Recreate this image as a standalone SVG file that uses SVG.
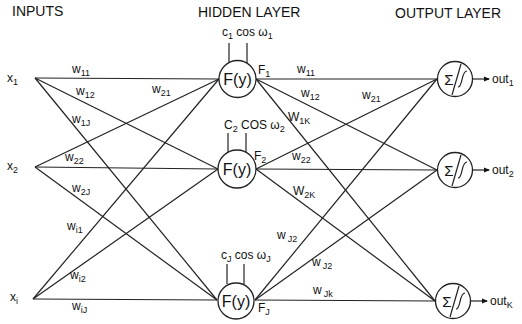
<svg xmlns="http://www.w3.org/2000/svg" width="522" height="324" viewBox="0 0 522 324">
<defs>
<marker id="ah" markerWidth="6" markerHeight="6" refX="5" refY="3" orient="auto" markerUnits="userSpaceOnUse">
<path d="M0,0.5 L6,3 L0,5.5 Z" fill="#111"/>
</marker>
<style>
text{font-family:"Liberation Sans",Arial,sans-serif;fill:#111;}
.hd{font-size:14px;}
.lb{font-size:12px;}
.sb{font-size:9px;}
.fy{font-size:16px;}
.ln{stroke:#222;stroke-width:1.2;fill:none;}
.nd{stroke:#222;stroke-width:1.3;fill:#fff;}
</style>
</defs>
<rect width="522" height="324" fill="#fff"/>

<text class="hd" x="12" y="16">INPUTS</text>
<text class="hd" x="198" y="17">HIDDEN LAYER</text>
<text class="hd" x="395" y="18">OUTPUT LAYER</text>

<g id="connectors" class="ln">
<!-- inputs to hidden -->
<line x1="35" y1="78" x2="219" y2="79"/>
<line x1="35" y1="78" x2="218" y2="169"/>
<line x1="35" y1="78" x2="217" y2="300"/>
<line x1="35" y1="167" x2="219" y2="79"/>
<line x1="35" y1="167" x2="218" y2="169"/>
<line x1="35" y1="167" x2="217" y2="300"/>
<line x1="33" y1="299" x2="219" y2="79"/>
<line x1="33" y1="299" x2="218" y2="169"/>
<line x1="33" y1="299" x2="217" y2="300"/>
<!-- hidden to output -->
<line x1="256" y1="79" x2="437" y2="79"/>
<line x1="256" y1="79" x2="437" y2="170"/>
<line x1="256" y1="79" x2="435" y2="301"/>
<line x1="256" y1="169" x2="437" y2="79"/>
<line x1="256" y1="169" x2="437" y2="170"/>
<line x1="256" y1="169" x2="435" y2="301"/>
<line x1="255" y1="300" x2="437" y2="79"/>
<line x1="255" y1="300" x2="437" y2="170"/>
<line x1="255" y1="300" x2="435" y2="301"/>
<!-- stubs -->
<line x1="229" y1="43" x2="229" y2="63"/>
<line x1="247" y1="43" x2="247" y2="63"/>
<line x1="228" y1="133" x2="228" y2="152"/>
<line x1="246" y1="133" x2="246" y2="152"/>
<line x1="227" y1="264" x2="227" y2="284"/>
<line x1="244" y1="264" x2="244" y2="284"/>
<!-- output arrows -->
<line x1="473" y1="79" x2="489" y2="79" marker-end="url(#ah)"/>
<line x1="473" y1="170" x2="489" y2="170" marker-end="url(#ah)"/>
<line x1="471" y1="301" x2="487" y2="301" marker-end="url(#ah)"/>
</g>

<!-- input nodes -->
<g id="x1"><text class="lb" x="7" y="82">x<tspan class="sb" dy="3">1</tspan></text></g>
<g id="x2"><text class="lb" x="7" y="170">x<tspan class="sb" dy="3">2</tspan></text></g>
<g id="xi"><text class="lb" x="10" y="301">x<tspan class="sb" dy="3">i</tspan></text></g>

<!-- hidden nodes -->
<g id="h1">
<circle class="nd" cx="237.5" cy="79" r="18.5"/>
<text class="fy" x="237.5" y="85" text-anchor="middle">F(y)</text>
<text class="lb" x="222" y="36">c<tspan class="sb" dy="3">1</tspan><tspan dy="-3"> cos ω</tspan><tspan class="sb" dy="3">1</tspan></text>
<text class="lb" x="258" y="74">F<tspan class="sb" dy="3">1</tspan></text>
</g>
<g id="h2">
<circle class="nd" cx="237" cy="169" r="19"/>
<text class="fy" x="237" y="175" text-anchor="middle">F(y)</text>
<text class="lb" x="224" y="129">C<tspan class="sb" dy="3">2</tspan><tspan dy="-3"> COS ω</tspan><tspan class="sb" dy="3">2</tspan></text>
<text class="lb" x="254" y="160">F<tspan class="sb" dy="3">2</tspan></text>
</g>
<g id="hJ">
<circle class="nd" cx="236" cy="301" r="18"/>
<text class="fy" x="236" y="307" text-anchor="middle">F(y)</text>
<text class="lb" x="221" y="259">c<tspan class="sb" dy="3">J</tspan><tspan dy="-3"> cos ω</tspan><tspan class="sb" dy="3">J</tspan></text>
<text class="lb" x="258" y="312">F<tspan class="sb" dy="3">J</tspan></text>
</g>

<!-- output nodes -->
<g id="o1">
<circle class="nd" cx="455" cy="79" r="17.5"/>
<text x="449" y="85" font-size="15" text-anchor="middle">Σ</text>
<line class="ln" x1="461" y1="64" x2="452" y2="95"/>
<path class="ln" d="M458,87 C463,87 461,71 467,71"/>
<text class="lb" x="492" y="83">out<tspan class="sb" dy="3">1</tspan></text>
</g>
<g id="o2">
<circle class="nd" cx="455" cy="170" r="17.5"/>
<text x="449" y="176" font-size="15" text-anchor="middle">Σ</text>
<line class="ln" x1="461" y1="155" x2="452" y2="186"/>
<path class="ln" d="M458,178 C463,178 461,162 467,162"/>
<text class="lb" x="492" y="174">out<tspan class="sb" dy="3">2</tspan></text>
</g>
<g id="oK">
<circle class="nd" cx="453" cy="301" r="17.5"/>
<text x="447" y="307" font-size="15" text-anchor="middle">Σ</text>
<line class="ln" x1="459" y1="286" x2="450" y2="317"/>
<path class="ln" d="M456,309 C461,309 459,293 465,293"/>
<text class="lb" x="490" y="305">out<tspan class="sb" dy="3">K</tspan></text>
</g>

<!-- weight labels, left -->
<g id="wlabels-left">
<text class="lb" x="72" y="73">w<tspan class="sb" dy="3">11</tspan></text>
<text class="lb" x="76" y="95">w<tspan class="sb" dy="3">12</tspan></text>
<text class="lb" x="152" y="93">w<tspan class="sb" dy="3">21</tspan></text>
<text class="lb" x="72" y="123">w<tspan class="sb" dy="3">1J</tspan></text>
<text class="lb" x="65" y="161">w<tspan class="sb" dy="3">22</tspan></text>
<text class="lb" x="72" y="192">w<tspan class="sb" dy="3">2J</tspan></text>
<text class="lb" x="67" y="230">w<tspan class="sb" dy="3">i1</tspan></text>
<text class="lb" x="70" y="279">w<tspan class="sb" dy="3">i2</tspan></text>
<text class="lb" x="72" y="310">w<tspan class="sb" dy="3">iJ</tspan></text>
</g>
<!-- weight labels, right -->
<g id="wlabels-right">
<text class="lb" x="297" y="73">w<tspan class="sb" dy="3">11</tspan></text>
<text class="lb" x="301" y="97">w<tspan class="sb" dy="3">12</tspan></text>
<text class="lb" x="362" y="99">w<tspan class="sb" dy="3">21</tspan></text>
<text class="lb" x="288" y="121">W<tspan class="sb" dy="3">1K</tspan></text>
<text class="lb" x="292" y="160">w<tspan class="sb" dy="3">22</tspan></text>
<text class="lb" x="293" y="195">W<tspan class="sb" dy="3">2K</tspan></text>
<text class="lb" x="277" y="239">w<tspan class="sb" dx="2" dy="3">J2</tspan></text>
<text class="lb" x="312" y="266">w<tspan class="sb" dx="2" dy="3">J2</tspan></text>
<text class="lb" x="313" y="294">w<tspan class="sb" dx="2" dy="3">Jk</tspan></text>
</g>
</svg>
